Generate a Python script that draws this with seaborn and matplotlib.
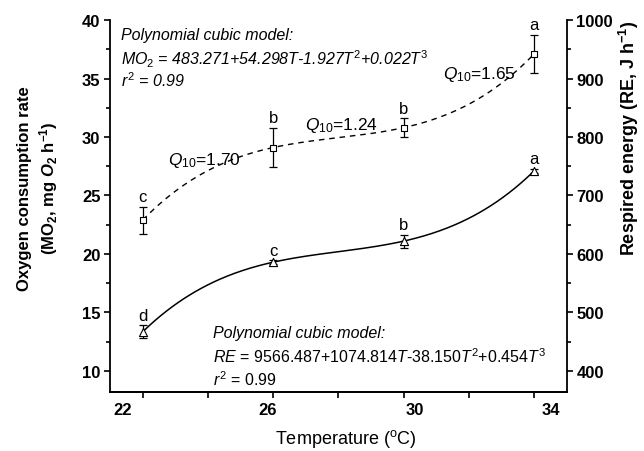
import numpy as np
import matplotlib.pyplot as plt
import seaborn as sns
from matplotlib.ticker import MultipleLocator
from matplotlib.transforms import ScaledTranslation

# data
temp = [22, 26, 30, 34]
mo2 = [22.9, 29.1, 30.8, 37.1]          # mg O2 h-1 (left axis)
mo2_err = [1.15, 1.7, 0.8, 1.65]
mo2_letters = ['c', 'b', 'b', 'a']
re = [467, 586, 622, 742]               # J h-1 (right axis)
re_err = [11, 3, 11, 4]
re_letters = ['d', 'c', 'b', 'a']
q10_values = ['1.70', '1.24', '1.65']
x_ticks = [22, 24, 26, 28, 30, 32, 34]
x_ticklabels = ['22', '', '26', '', '30', '', '34']

sns.set_style('ticks')
plt.rcParams['font.family'] = ['Liberation Sans', 'DejaVu Sans']
plt.rcParams['text.color'] = 'black'
plt.rcParams['axes.labelcolor'] = 'black'
plt.rcParams['axes.edgecolor'] = 'black'
plt.rcParams['xtick.color'] = 'black'
plt.rcParams['ytick.color'] = 'black'
plt.rcParams['mathtext.fontset'] = 'custom'
plt.rcParams['mathtext.rm'] = 'Liberation Sans'
plt.rcParams['mathtext.it'] = 'Liberation Sans:italic'
plt.rcParams['mathtext.bf'] = 'Liberation Sans:bold'
plt.rcParams['mathtext.bfit'] = 'Liberation Sans:bold:italic'

fig = plt.figure(figsize=(6.44, 4.52), dpi=100)
ax = fig.add_axes([0.171, 0.1305, 0.709, 0.823])
ax2 = ax.twinx()

# cubic model curves fitted to the means
tt = np.linspace(22, 34, 200)
mo2_fit = np.polyval(np.polyfit(temp, mo2, 3), tt)
re_fit = np.polyval(np.polyfit(temp, re, 3), tt)
sns.lineplot(x=tt, y=mo2_fit, ax=ax, color='black', linewidth=1, linestyle=(0, (4, 3.5)))
sns.lineplot(x=tt, y=re_fit, ax=ax2, color='black', linewidth=1.1)

ax.errorbar(temp, mo2, yerr=mo2_err, fmt='none', ecolor='black', elinewidth=0.9, capsize=2.6, capthick=0.9)
ax2.errorbar(temp, re, yerr=re_err, fmt='none', ecolor='black', elinewidth=0.9, capsize=2.6, capthick=0.9)
sns.scatterplot(x=temp, y=mo2, ax=ax, marker='s', s=22, facecolor='white', edgecolor='black', linewidth=0.8, zorder=4)
sns.scatterplot(x=temp, y=re, ax=ax2, marker='^', s=34, facecolor='white', edgecolor='black', linewidth=0.8, zorder=4)

for t, v, e, l in zip(temp, mo2, mo2_err, mo2_letters):
    ax.annotate(l, (t, v + e), xytext=(0, 2), textcoords='offset points', ha='center', va='bottom', fontsize=12)
for t, v, e, l in zip(temp, re, re_err, re_letters):
    ax2.annotate(l, (t, v + e), xytext=(0, 2), textcoords='offset points', ha='center', va='bottom', fontsize=12)

# Q10 labels between temperatures
q10_pos = [(22.77, 28.1), (26.98, 31.1), (31.2, 35.4)]
for (x, y), q in zip(q10_pos, q10_values):
    ax.text(x, y, r'$Q_{10}$=' + q, fontsize=12.5, va='center', ha='left')

# model equations
ax.text(0.024, 0.962, 'Polynomial cubic model:', transform=ax.transAxes, style='italic', fontsize=11.5, va='center')
ax.text(0.024, 0.898, r'$MO_{\mathit{2}}$ = 483.271+54.298$T$-1.927$T^{\mathit{2}}$+0.022$T^{\mathit{3}}$',
        transform=ax.transAxes, style='italic', fontsize=11.5, va='center')
ax.text(0.024, 0.839, r'$r^{\mathit{2}}$ = 0.99', transform=ax.transAxes, style='italic', fontsize=11.5, va='center')
ax.text(0.225, 0.159, 'Polynomial cubic model:', transform=ax.transAxes, style='italic', fontsize=11.5, va='center')
ax.text(0.225, 0.097, r'$RE$ = 9566.487+1074.814$T$-38.150$T^2$+0.454$T^3$',
        transform=ax.transAxes, fontsize=11.5, va='center')
ax.text(0.225, 0.035, r'$r^2$ = 0.99', transform=ax.transAxes, fontsize=11.5, va='center')

# axes
ax.set_xlim(21, 35)
ax.set_ylim(8.2, 40)
ax2.set_ylim(364, 1000)
ax.set_xticks(x_ticks)
ax.set_xticklabels(x_ticklabels, fontweight='bold', fontsize=12)
ax.set_yticks(range(10, 41, 5))
ax.set_yticklabels([str(v) for v in range(10, 41, 5)], fontweight='bold', fontsize=12)
ax.yaxis.set_minor_locator(MultipleLocator(2.5))
ax2.set_yticks(range(400, 1001, 100))
ax2.set_yticklabels([str(v) for v in range(400, 1001, 100)], fontweight='bold', fontsize=12)
ax2.yaxis.set_minor_locator(MultipleLocator(50))

for a in (ax, ax2):
    a.spines['top'].set_visible(False)
    for s in a.spines.values():
        s.set_linewidth(1.3)
    a.tick_params(which='major', direction='out', length=4, width=1.2, pad=3)
    a.tick_params(which='minor', direction='out', length=3, width=1.2)
ax.spines['right'].set_visible(False)
ax2.spines['left'].set_visible(False)

# the x tick labels sit a little spread out in the original
for lab, dx in zip(ax.get_xticklabels(), [-20, 0, -6, 0, 11, 0, 17]):
    lab.set_transform(lab.get_transform() + ScaledTranslation(dx / 100, 0, fig.dpi_scale_trans))

ax.set_xlabel(r'Temperature ($^{\rm o}$C)', fontsize=13)
ax.xaxis.set_label_coords(0.516, -0.095)
ax.set_ylabel('Oxygen consumption rate\n' + r'(M$\mathbf{O_2}$, mg $\mathbfit{O}_\mathbf{2}$ h$^{\mathbf{-1}}$)',
              fontweight='bold', fontsize=12, linespacing=1.3)
ax.yaxis.set_label_coords(-0.11, 0.55)
ax2.set_ylabel(r'Respired energy (RE, J h$^{\mathbf{-1}}$)', fontweight='bold', fontsize=13)
ax2.yaxis.set_label_coords(1.11, 0.685)

fig.savefig('out.png', dpi=100)
